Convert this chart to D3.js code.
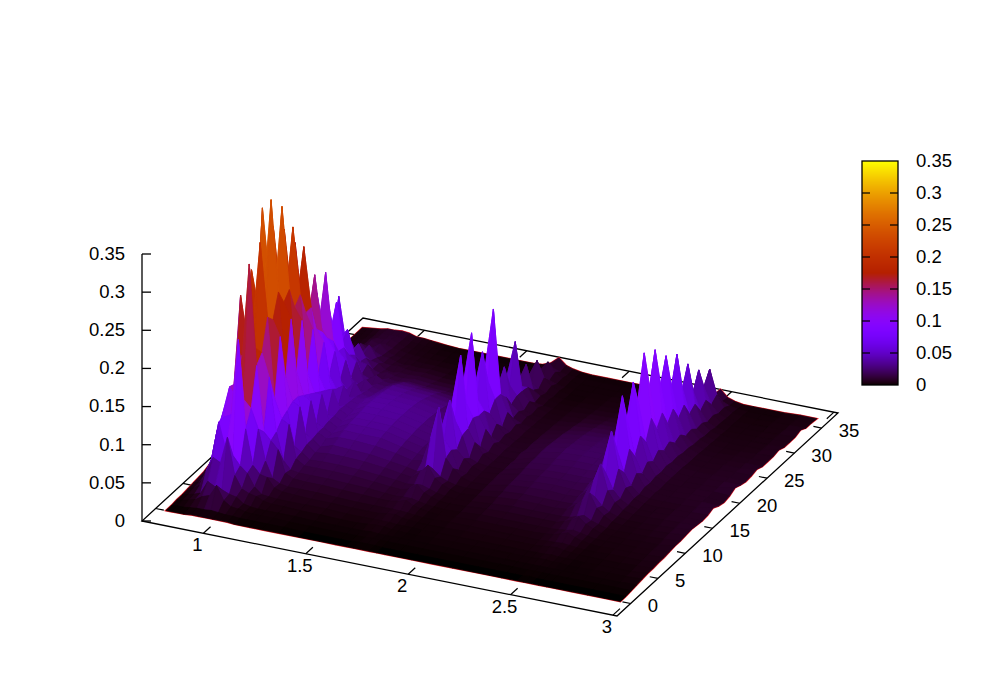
<!DOCTYPE html>
<html>
<head>
<meta charset="utf-8">
<script src="https://cdnjs.cloudflare.com/ajax/libs/d3/7.8.5/d3.min.js"></script>
<style>
  html, body { margin: 0; background: #fff; }
  text { font-family: "Liberation Sans", sans-serif; font-size: 18.5px; fill: #000; }
</style>
</head>
<body>
<div id="chart"></div>
<script>
const xTicks = [1, 1.5, 2, 2.5, 3];
const yTicks = [0, 5, 10, 15, 20, 25, 30, 35];
const zTicks = [0, 0.05, 0.1, 0.15, 0.2, 0.25, 0.3, 0.35];

const xValues = [0.75, 0.78, 0.81, 0.84, 0.875, 0.91, 0.944, 0.98, 1.015, 1.05, 1.085, 1.12, 1.16,
  1.22, 1.30, 1.40, 1.50, 1.58, 1.63, 1.67, 1.71, 1.745, 1.78, 1.82, 1.87,
  1.95, 2.05, 2.15, 2.25, 2.33, 2.39, 2.43, 2.465, 2.50, 2.535, 2.57, 2.61, 2.66,
  2.73, 2.81, 2.89, 2.97];
const yValues = [0, 1, 2, 3, 4, 5, 6, 7, 8, 9, 10, 11, 12, 13, 14, 15, 16, 17, 18,
  19, 20, 21, 22, 23, 24, 25, 26, 27, 28, 29, 30, 31, 32, 33, 34, 35, 36];

// z in thousandths, one row per y, one column per x
const zRows = [
  [0,0,0,0,1,1,1,1,1,1,0,0,0, 0,0,0,0,0, 0,0,0,0,0,0,0, 0,0,0,0,0, 0,0,0,0,0,0,0,0, 0,0,0,0],
  [0,1,1,2,3,3,4,3,2,2,1,1,1, 1,1,0,0,0, 0,1,1,1,0,0,0, 0,0,0,0,0, 0,0,0,1,0,0,0,0, 0,0,0,0],
  [1,2,4,6,12,15,30,12,6,5,3,2,2, 2,1,1,1,1, 1,1,2,1,1,1,1, 1,1,1,1,1, 1,1,1,1,1,1,1,1, 1,1,1,1],
  [1,3,5,8,25,20,18,14,12,5,3,2,2, 2,2,1,1,1, 1,2,1,1,1,1,1, 1,1,1,1,1, 1,1,1,1,1,1,1,1, 1,1,1,2],
  [2,5,10,30,50,45,80,32,16,12,10,6,4, 4,3,3,2,2, 3,4,4,2,2,1,1, 2,2,2,2,2, 2,2,3,3,2,2,1,1, 2,2,2,3],
  [3,6,14,40,90,55,50,38,30,14,6,5,4, 4,4,4,3,3, 3,3,3,2,2,2,1, 2,2,2,2,2, 2,2,2,3,2,2,2,1, 2,2,2,4],
  [4,9,26,70,90,95,195,80,34,24,22,10,7, 6,5,5,4,4, 4,6,7,4,3,2,2, 2,3,3,3,3, 3,4,5,6,4,3,2,2, 2,2,3,4],
  [5,12,32,85,123,110,110,100,75,35,14,9,7, 7,7,6,5,5, 5,5,5,4,3,2,2, 3,3,3,3,3, 3,4,4,5,4,3,2,2, 3,3,3,5],
  [8,16,46,100,120,160,281,150,65,55,45,16,11, 10,10,9,8,7, 7,9,12,7,5,3,2, 3,4,4,4,4, 5,6,9,12,8,5,3,2, 3,3,4,5],
  [10,20,48,100,230,170,165,160,130,60,24,14,12, 12,12,11,10,8, 7,8,8,6,4,3,2, 3,5,5,5,5, 5,6,7,9,7,5,3,3, 3,3,4,6],
  [14,26,68,125,150,190,296,200,95,70,65,22,15, 15,15,14,12,10, 9,12,20,11,7,4,3, 4,6,7,7,7, 7,10,14,20,12,8,4,3, 3,4,4,7],
  [16,28,60,120,250,200,190,190,170,75,30,24,16, 17,17,16,14,12, 10,11,12,9,6,4,3, 4,6,8,8,8, 8,9,12,15,10,7,4,3, 4,4,5,7],
  [20,34,80,150,190,220,339,220,110,80,75,28,19, 21,21,20,17,14, 12,20,32,17,10,6,3, 5,8,10,10,9, 11,18,26,38,20,12,6,4, 4,5,6,8],
  [22,36,70,135,318,225,205,200,180,80,34,28,20, 25,24,23,19,16, 13,17,20,12,8,5,4, 5,9,11,11,11, 11,14,20,26,16,10,6,4, 4,5,6,9],
  [24,42,90,150,170,205,317,210,105,75,70,30,24, 29,29,27,23,18, 20,52,95,30,18,9,5, 6,11,13,14,13, 14,22,38,63,30,16,8,5, 5,6,7,8],
  [24,44,75,130,280,195,195,180,165,70,34,30,24, 32,31,31,25,20, 18,30,46,34,10,7,5, 6,11,14,15,14, 14,20,30,44,24,14,8,5, 5,6,7,7],
  [24,48,95,140,165,185,277,190,90,65,65,32,26, 34,34,33,27,22, 22,52,91,28,18,10,5, 7,12,15,16,16, 18,30,55,93,45,22,10,6, 5,6,7,8],
  [24,44,70,115,264,180,170,160,140,60,32,32,27, 35,35,34,28,22, 20,38,58,40,12,8,6, 6,13,16,17,17, 17,26,42,62,34,18,9,6, 6,6,7,11],
  [22,42,85,130,145,165,238,160,75,55,58,34,28, 36,36,35,29,24, 26,75,137,42,26,13,6, 7,14,17,19,19, 21,38,72,126,58,28,12,7, 6,7,8,7],
  [20,36,60,100,233,150,140,125,110,50,30,33,29, 37,37,35,29,23, 22,45,68,50,14,9,6, 6,14,18,20,20, 20,32,52,84,42,21,11,6, 6,7,7,5],
  [18,34,65,100,110,125,188,115,60,44,50,32,30, 37,37,35,29,24, 28,85,153,46,30,14,7, 8,15,19,21,21, 22,40,75,131,62,30,13,7, 6,7,8,7],
  [16,28,48,80,170,115,115,100,85,40,28,31,30, 36,36,34,28,22, 22,40,60,46,14,9,6, 6,15,19,21,21, 21,36,60,95,48,24,12,7, 6,6,7,11],
  [14,24,48,80,85,105,178,90,40,30,42,28,26, 35,34,33,27,22, 24,65,115,36,24,12,6, 7,14,18,20,21, 22,44,85,156,72,32,14,7, 6,7,8,8],
  [12,20,36,60,140,90,90,70,60,27,22,26,24, 33,32,30,25,20, 22,45,70,48,14,9,5, 6,13,17,19,20, 20,38,70,105,52,25,12,7, 6,6,7,6],
  [10,17,32,60,70,80,126,68,30,24,32,24,22, 31,29,27,22,19, 26,80,158,48,26,12,6, 6,12,16,18,19, 21,42,80,147,66,30,13,6, 5,6,7,7],
  [8,13,22,42,115,72,65,52,45,21,17,21,20, 26,25,23,19,15, 14,26,36,38,12,7,5, 5,10,14,15,16, 17,32,60,95,46,22,11,6, 5,6,6,9],
  [7,11,20,45,60,65,77,45,22,18,24,18,17, 22,20,18,15,13, 15,34,69,22,14,9,5, 5,9,12,14,15, 16,34,68,126,58,26,11,6, 5,5,6,6],
  [6,9,14,28,110,50,40,30,28,14,12,15,13, 16,14,13,11,9, 12,24,38,26,9,6,4, 4,7,10,11,12, 13,26,48,80,40,18,9,5, 4,5,5,6],
  [5,8,12,22,35,33,45,28,15,12,15,12,11, 13,11,10,9,8, 14,42,89,26,14,8,4, 4,6,8,9,10, 11,26,52,115,50,20,9,5, 4,4,5,6],
  [5,7,9,14,40,25,24,18,16,10,8,10,9, 10,8,7,6,5, 7,14,24,24,6,4,3, 3,5,6,7,8, 9,18,36,64,32,14,7,4, 4,4,4,8],
  [4,6,8,12,20,19,30,15,10,9,10,8,7, 8,6,5,4,4, 6,20,46,14,8,5,3, 3,4,5,6,6, 8,18,38,89,38,15,7,4, 3,4,4,5],
  [4,5,6,8,22,14,15,11,10,7,5,6,5, 6,4,3,3,3, 4,9,15,9,5,3,2, 2,3,4,4,5, 6,12,24,46,23,10,5,3, 3,3,4,5],
  [3,5,6,8,12,12,18,10,7,6,6,5,4, 4,3,3,2,2, 5,16,38,17,8,4,2, 2,3,3,4,4, 5,13,30,68,30,12,5,3, 3,3,4,5],
  [3,4,5,6,13,10,11,8,7,5,4,4,3, 3,2,2,2,2, 3,7,10,7,4,2,2, 2,2,3,3,3, 4,9,20,38,18,8,4,3, 2,3,3,8],
  [3,4,4,6,9,9,12,8,5,4,4,3,3, 2,2,2,2,2, 3,10,23,11,5,3,2, 2,2,2,3,3, 4,10,26,56,24,9,4,3, 2,3,3,4],
  [3,3,3,5,9,8,9,7,5,4,3,3,2, 2,2,1,1,1, 3,5,8,5,3,2,2, 2,2,2,2,2, 3,5,10,16,9,5,3,2, 2,2,3,4],
  [3,4,5,6,8,8,9,8,5,5,4,3,2, 1,1,1,1,1, 2,6,15,7,4,2,1, 1,1,1,1,1, 2,3,7,16,7,4,2,2, 2,2,3,3]
];

const width = 981;
const height = 687;
const zMax = 0.35;

// corners of the base of the box
const origin = [142, 521];
const xEdge = [475, 95];
const yEdge = [221, -203];

const xScale = d3.scaleLinear().domain([0.7, 3.02]).range([0, 1]);
const yScale = d3.scaleLinear().domain([-2.5, 38]).range([0, 1]);
const zScale = d3.scaleLinear().domain([0, zMax]).range([521, 254]);
const cbScale = d3.scaleLinear().domain([0, zMax]).range([385, 161]);

function project(x, y, z) {
  const u = xScale(x);
  const v = yScale(y);
  return [
    origin[0] + u * xEdge[0] + v * yEdge[0],
    origin[1] + u * xEdge[1] + v * yEdge[1] + zScale(z) - zScale(0)
  ];
}

// gnuplot's default palette, rgbformulae 7,5,15
function palette(z) {
  const g = Math.max(0, Math.min(1, z / zMax));
  const b = Math.max(0, Math.sin(2 * Math.PI * g));
  return d3.rgb(255 * Math.sqrt(g), 255 * g * g * g, 255 * b).formatHex();
}

const svg = d3.select("#chart")
  .append("svg")
  .attr("width", width)
  .attr("height", height)
  .style("display", "block");

const line = d3.line();
const xLo = xScale.domain()[0], xHi = xScale.domain()[1];
const yLo = yScale.domain()[0], yHi = yScale.domain()[1];

// base box
svg.append("path")
  .attr("d", line([project(xLo, yLo, 0), project(xHi, yLo, 0), project(xHi, yHi, 0), project(xLo, yHi, 0)]) + "Z")
  .attr("fill", "none")
  .attr("stroke", "#000")
  .attr("stroke-width", 1.3);

// ticks on both sides of the base
const tickStyle = sel => sel.attr("stroke", "#000").attr("stroke-width", 1.2).attr("fill", "none");

xTicks.forEach(t => {
  const a = project(t, yLo, 0), b = project(t, yLo + 1.3, 0);
  const c = project(t, yHi, 0), d = project(t, yHi - 1.3, 0);
  svg.append("path").attr("d", line([a, b])).call(tickStyle);
  svg.append("path").attr("d", line([c, d])).call(tickStyle);
  svg.append("text")
    .attr("x", a[0] - 6)
    .attr("y", a[1] + 18)
    .attr("text-anchor", "middle")
    .text(t);
});

yTicks.forEach(t => {
  const a = project(xHi, t, 0), b = project(xHi - 0.04, t, 0);
  const c = project(xLo, t, 0), d = project(xLo + 0.04, t, 0);
  svg.append("path").attr("d", line([a, b])).call(tickStyle);
  svg.append("path").attr("d", line([c, d])).call(tickStyle);
  svg.append("text")
    .attr("x", a[0] + 17)
    .attr("y", a[1] + 9)
    .text(t);
});

// red edge of the surface, sits under the quads; dark fill keeps seams from showing white
const nx = xValues.length, ny = yValues.length;
const rim = [];
xValues.forEach((x, i) => rim.push(project(x, yValues[0], zRows[0][i] / 1000)));
yValues.forEach((y, j) => rim.push(project(xValues[nx - 1], y, zRows[j][nx - 1] / 1000)));
xValues.slice().reverse().forEach((x, i) => rim.push(project(x, yValues[ny - 1], zRows[ny - 1][nx - 1 - i] / 1000)));
yValues.slice().reverse().forEach((y, j) => rim.push(project(xValues[0], y, zRows[ny - 1 - j][0] / 1000)));
svg.append("path")
  .attr("d", line(rim) + "Z")
  .attr("fill", "#180012")
  .attr("stroke", "#e8202a")
  .attr("stroke-width", 1.8);

// surface quads, far ones first
const quads = [];
for (let j = 0; j < ny - 1; j++) {
  for (let i = 0; i < nx - 1; i++) {
    const corners = [[i, j], [i + 1, j], [i + 1, j + 1], [i, j + 1]];
    const zs = corners.map(c => zRows[c[1]][c[0]] / 1000);
    quads.push({
      pts: corners.map((c, k) => project(xValues[c[0]], yValues[c[1]], zs[k])),
      depth: d3.mean(corners, c => project(xValues[c[0]], yValues[c[1]], 0)[1]),
      color: palette(d3.mean(zs))
    });
  }
}
quads.sort((a, b) => a.depth - b.depth);

svg.append("g")
  .selectAll("path")
  .data(quads)
  .enter()
  .append("path")
  .attr("d", d => line(d.pts) + "Z")
  .attr("fill", d => d.color)
  .attr("stroke", d => d.color)
  .attr("stroke-width", 0.8)
  .attr("stroke-linejoin", "round");

// z axis
const zAxis = d3.axisLeft(zScale)
  .tickValues(zTicks)
  .tickFormat(d => d)
  .tickSizeInner(-9)
  .tickSizeOuter(0)
  .tickPadding(17)
  .offset(0);
const zG = svg.append("g").attr("transform", `translate(${origin[0]},0)`).call(zAxis);
zG.selectAll("line, path").attr("stroke", "#000").attr("stroke-width", 1.3);
zG.attr("font-family", null).attr("font-size", null);

// colour box
const cbLeft = 862, cbRight = 898, levels = 224;
svg.append("g")
  .selectAll("rect")
  .data(d3.range(levels))
  .enter()
  .append("rect")
  .attr("x", cbLeft)
  .attr("width", cbRight - cbLeft)
  .attr("y", d => cbScale((d + 1) / levels * zMax))
  .attr("height", d => cbScale(d / levels * zMax) - cbScale((d + 1) / levels * zMax))
  .attr("fill", d => palette((d + 0.5) / levels * zMax));

svg.append("rect")
  .attr("x", cbLeft)
  .attr("y", cbScale(zMax))
  .attr("width", cbRight - cbLeft)
  .attr("height", cbScale(0) - cbScale(zMax))
  .attr("fill", "none")
  .attr("stroke", "#000")
  .attr("stroke-width", 1.3);

zTicks.forEach(t => {
  const yy = cbScale(t);
  if (t > 0 && t < zMax) {
    svg.append("path").attr("d", line([[cbLeft, yy], [cbLeft + 8, yy]])).call(tickStyle);
    svg.append("path").attr("d", line([[cbRight, yy], [cbRight - 8, yy]])).call(tickStyle);
  }
  svg.append("text")
    .attr("x", 916)
    .attr("y", yy + 6)
    .text(t);
});
</script>
</body>
</html>
